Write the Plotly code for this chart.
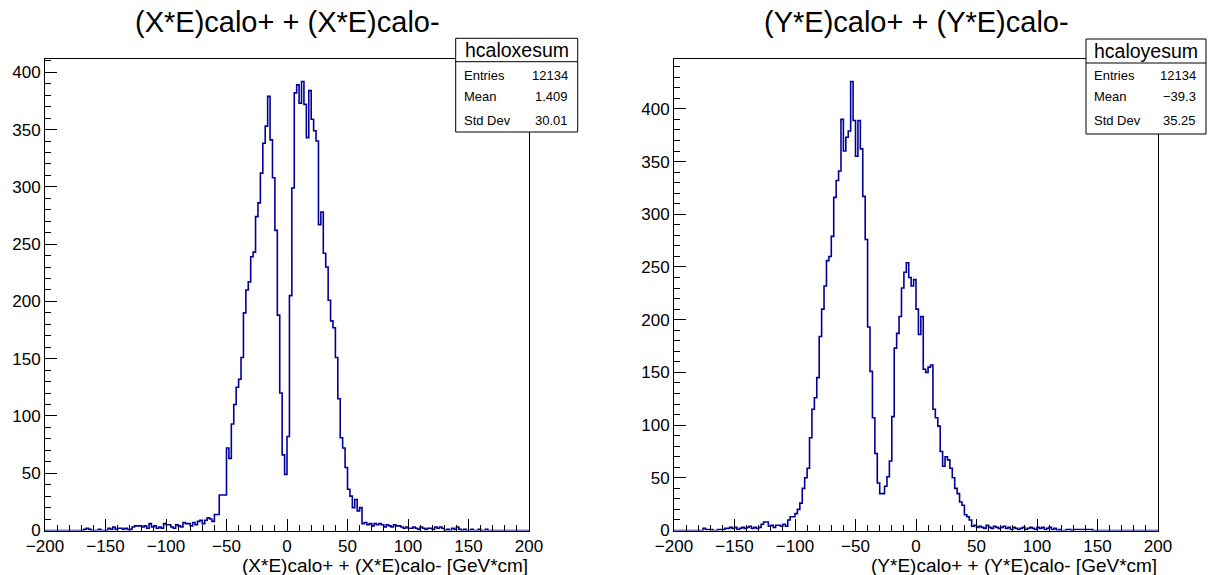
import numpy as np
import plotly.graph_objects as go

# ---------------- data ----------------
x_min = -200
x_max = 200
bin_width = 2

# (X*E)calo+ + (X*E)calo-  : 200 bins from -200 to 200 (20 bins per row)
x_counts = [
    0, 0, 0, 0, 0, 0, 0, 0, 0, 0, 0, 0, 0, 0, 0, 0, 1, 2, 1, 0,                # -200 .. -162
    0, 0, 1, 0, 0, 0, 2, 1, 3, 1, 2, 2, 1, 2, 1, 1, 3, 4, 4, 4,                # -160 .. -122
    3, 4, 2, 6, 3, 4, 2, 3, 2, 6, 5, 5, 3, 2, 5, 4, 3, 7, 6, 6,                # -120 .. -82
    4, 7, 5, 8, 9, 6, 9, 11, 10, 8, 14, 14, 31, 31, 31, 72, 63, 93, 110, 125,  # -80 .. -42
    132, 151, 190, 210, 217, 239, 243, 274, 286, 312,
    338, 353, 379, 341, 308, 262, 188, 120, 66, 49,                            # -40 .. -2
    82, 205, 299, 382, 389, 373, 392, 372, 343, 384,
    359, 349, 340, 267, 278, 242, 230, 201, 183, 177,                          # 0 .. 38
    151, 115, 81, 72, 55, 36, 30, 20, 27, 17, 20, 6, 7, 5, 6, 4, 6, 5, 6, 5,   # 40 .. 78
    3, 5, 4, 3, 5, 4, 4, 3, 2, 3, 2, 2, 3, 2, 1, 3, 2, 1, 2, 2,                # 80 .. 118
    1, 3, 2, 3, 2, 0, 1, 0, 2, 1, 3, 1, 0, 1, 0, 0, 1, 0, 0, 1,                # 120 .. 158
    0, 0, 1, 0, 0, 0, 0, 0, 0, 0, 0, 0, 0, 0, 0, 0, 0, 0, 0, 0,                # 160 .. 198
]

# (Y*E)calo+ + (Y*E)calo-
y_counts = [
    0, 0, 0, 0, 0, 0, 0, 0, 0, 0, 0, 0, 2, 1, 1, 1, 0, 0, 1, 1,                # -200 .. -162
    1, 2, 2, 3, 2, 3, 1, 2, 3, 2, 3, 4, 2, 3, 2, 3, 6, 8, 8, 4,                # -160 .. -122
    5, 3, 5, 5, 4, 6, 4, 10, 13, 13, 16, 20, 26, 40, 50, 59, 88, 115, 126, 145,  # -120 .. -82
    184, 210, 232, 256, 260, 279, 316, 332, 341, 390,
    360, 373, 379, 426, 389, 355, 389, 362, 317, 276,                          # -80 .. -42
    193, 151, 107, 73, 45, 35, 35, 42, 51, 66,
    108, 173, 187, 203, 230, 245, 254, 240, 232, 238,                          # -40 .. -2
    210, 186, 203, 153, 150, 155, 157, 115, 107, 99,
    75, 61, 70, 67, 59, 50, 40, 35, 27, 24,                                    # 0 .. 38
    15, 13, 10, 4, 5, 3, 4, 3, 2, 5, 3, 2, 4, 3, 2, 3, 4, 2, 3, 1,             # 40 .. 78
    3, 2, 1, 2, 3, 1, 2, 3, 2, 1, 3, 2, 3, 1, 2, 3, 1, 2, 0, 1,                # 80 .. 118
    0, 0, 1, 1, 0, 1, 1, 1, 1, 1, 1, 1, 1, 0, 0, 0, 0, 0, 0, 0,                # 120 .. 158
    0, 0, 0, 0, 0, 0, 0, 0, 0, 0, 0, 0, 0, 0, 0, 0, 0, 0, 0, 0,                # 160 .. 198
]

titles = ["(X*E)calo+ + (X*E)calo-", "(Y*E)calo+ + (Y*E)calo-"]
axis_titles = ["(X*E)calo+ + (X*E)calo- [GeV*cm]", "(Y*E)calo+ + (Y*E)calo- [GeV*cm]"]
stat_names = ["hcaloxesum", "hcaloyesum"]
stat_labels = ["Entries", "Mean", "Std Dev"]
stat_values = [["12134", "1.409", "30.01"], ["12134", "\u221239.3", "35.25"]]
x_tickvals = [-200, -150, -100, -50, 0, 50, 100, 150, 200]
y_tickvals = [0, 50, 100, 150, 200, 250, 300, 350, 400]

# ---------------- layout geometry (pixels) ----------------
W, H = 1214, 575
FONT = "Liberation Sans, Arial, Helvetica, sans-serif"
LINE_COLOR = "#000099"

def fx(px):
    return px / W

def fy(py):
    return 1 - py / H

frames = [(45, 529), (674, 1158)]
frame_top, frame_bottom = 59, 530.5
stat_boxes = [(455.7, 577.7, 38.3, 61.7, 132.0), (1086, 1206, 39.0, 63.0, 134.0)]
stat_rows_y = [75, 97, 120]

edges = x_min + bin_width * np.arange(len(x_counts) + 1)

fig = go.Figure()
for i, counts in enumerate([x_counts, y_counts]):
    xa = "x" if i == 0 else "x2"
    ya = "y" if i == 0 else "y2"
    fig.add_trace(go.Scatter(
        x=edges, y=list(counts) + [counts[-1]],
        mode="lines", line=dict(color=LINE_COLOR, width=1.6, shape="hv"),
        xaxis=xa, yaxis=ya, showlegend=False, hoverinfo="skip",
    ))

axis_common = dict(
    showline=True, linecolor="black", linewidth=1, mirror=True,
    ticks="inside", ticklen=12, tickwidth=1, tickcolor="black",
    showgrid=False, zeroline=False, automargin=False,
    tickfont=dict(family=FONT, size=17, color="black"),
)

layout = dict(
    width=W, height=H, margin=dict(l=0, r=0, t=0, b=0),
    paper_bgcolor="white", plot_bgcolor="white", showlegend=False,
    font=dict(family=FONT, color="black"),
)
for i, counts in enumerate([x_counts, y_counts]):
    suffix = "" if i == 0 else "2"
    l, r = frames[i]
    layout["xaxis" + suffix] = dict(
        axis_common, domain=[fx(l), fx(r)], range=[x_min, x_max],
        tickvals=x_tickvals, anchor="y" + suffix,
        minor=dict(dtick=10, tick0=0, ticks="inside", ticklen=6, tickcolor="black"),
    )
    layout["yaxis" + suffix] = dict(
        axis_common, domain=[fy(frame_bottom), fy(frame_top)],
        range=[0, 1.05 * max(counts)], tickvals=y_tickvals, anchor="x" + suffix,
        minor=dict(dtick=10, tick0=0, ticks="inside", ticklen=6, tickcolor="black"),
    )
fig.update_layout(**layout)

shapes = []
annotations = []
for i in range(2):
    l, r = frames[i]
    cx = (l + r) / 2
    annotations.append(dict(
        text=titles[i], x=fx(cx), y=fy(22), xref="paper", yref="paper",
        xanchor="center", yanchor="middle", showarrow=False,
        font=dict(family=FONT, size=29, color="black"),
    ))
    annotations.append(dict(
        text=axis_titles[i], x=fx(r + 1), y=fy(565), xref="paper", yref="paper",
        xanchor="right", yanchor="middle", showarrow=False,
        font=dict(family=FONT, size=19, color="black"),
    ))
    bl, br, bt, bsep, bb = stat_boxes[i]
    shapes.append(dict(type="rect", xref="paper", yref="paper",
                       x0=fx(bl), x1=fx(br), y0=fy(bb), y1=fy(bt),
                       line=dict(color="black", width=1), fillcolor="white", layer="above"))
    shapes.append(dict(type="line", xref="paper", yref="paper",
                       x0=fx(bl), x1=fx(br), y0=fy(bsep), y1=fy(bsep),
                       line=dict(color="black", width=1), layer="above"))
    annotations.append(dict(
        text=stat_names[i], x=fx((bl + br) / 2), y=fy((bt + bsep) / 2),
        xref="paper", yref="paper", xanchor="center", yanchor="middle",
        showarrow=False, font=dict(family=FONT, size=19.5, color="black"),
    ))
    for j, lab in enumerate(stat_labels):
        annotations.append(dict(
            text=lab, x=fx(bl + 6), y=fy(stat_rows_y[j]), xref="paper", yref="paper",
            xanchor="left", yanchor="middle", showarrow=False,
            font=dict(family=FONT, size=13, color="black"),
        ))
        annotations.append(dict(
            text=stat_values[i][j], x=fx(br - 8), y=fy(stat_rows_y[j]), xref="paper", yref="paper",
            xanchor="right", yanchor="middle", showarrow=False,
            font=dict(family=FONT, size=13, color="black"),
        ))

fig.update_layout(shapes=shapes, annotations=annotations)
fig.write_html("out.html")
